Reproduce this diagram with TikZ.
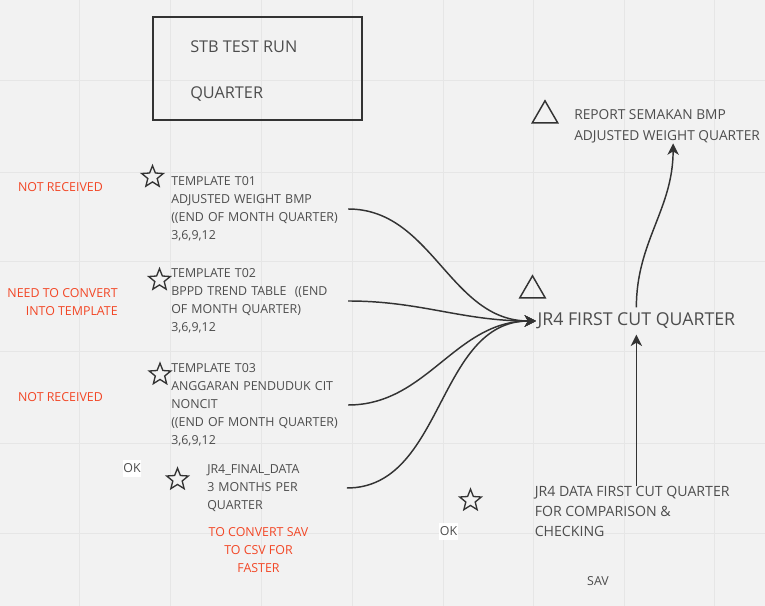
\documentclass[tikz,border=0pt]{standalone}
\usepackage{fontspec}
\setmainfont{Open Sans}
\usetikzlibrary{shapes.geometric,arrows.meta}
\definecolor{boardbg}{HTML}{F2F2F2}
\definecolor{gridln}{HTML}{E6E6E6}
\definecolor{inkgray}{HTML}{4D4D4D}
\definecolor{notered}{HTML}{F24726}
\definecolor{lineink}{HTML}{333333}

\begin{document}
\begin{tikzpicture}[x=0.75pt,y=-0.75pt]
			\tikzstyle{every node}+=[inner sep=0pt, text=inkgray]
			\tikzstyle{small}=[font=\fontsize{9.3}{13.5}\selectfont]
			\tikzstyle{txt}=[small, align=left, anchor=west]
			\tikzstyle{note}=[small, text=notered]
			\tikzstyle{okbox}=[small, fill=white, inner xsep=0.6pt, minimum height=12.6pt]
			\tikzstyle{starsym}=[star, star points=5, star point ratio=2.3, draw=lineink, line width=1pt, minimum size=17pt]
			\tikzstyle{trisym}=[regular polygon, regular polygon sides=3, draw=lineink, line width=1.1pt, minimum size=22pt]
			\tikzstyle{flow}=[draw=lineink, line width=1.1pt, -{Stealth[length=8.5pt, width=8.5pt, inset=2.5pt]}]
			\useasboundingbox (0,0) rectangle (765,606);
			\fill [boardbg] (0,0) rectangle (765,606);
			\foreach \gx in {79,170,261,352,443,533,624,714}
				\draw [gridln, line width=0.75pt] (\gx,0) -- (\gx,606);
			\foreach \gy in {81,173,262,352,443,533}
				\draw [gridln, line width=0.75pt] (0,\gy) -- (765,\gy);
			\draw [lineink, line width=1.1pt] (153,17) rectangle (362,120);
			\node [anchor=west, font=\fontsize{12.2}{14}\selectfont] (stb) at (190,47) {STB TEST RUN};
			\node [anchor=west, font=\fontsize{12.2}{14}\selectfont] (stbq) at (190,93.5) {QUARTER};
			\node [trisym] (tri1) at (545,115.5) {};
			\node [anchor=west, align=left, font=\fontsize{10.3}{15.6}\selectfont] (report) at (574,126.5) {REPORT SEMAKAN BMP\\ADJUSTED WEIGHT QUARTER};
			\node [trisym] (tri2) at (532.5,290.5) {};
			\node [anchor=west, inner xsep=1pt, inner ysep=4pt, font=\fontsize{13.3}{15}\selectfont] (jrcut) at (536,321) {JR4 FIRST CUT QUARTER};
			\node [note] (nr1) at (60.5,187) {NOT RECEIVED};
			\node [note, align=right, anchor=east] (ntc) at (118,302) {NEED TO CONVERT\\INTO TEMPLATE};
			\node [note] (nr3) at (60.5,397) {NOT RECEIVED};
			\node [starsym] (s1) at (152.5,177) {};
			\node [starsym] (s2) at (159.5,280) {};
			\node [starsym] (s3) at (160,374.5) {};
			\node [starsym] (s4) at (177.5,479.5) {};
			\node [starsym] (s5) at (470.5,500.5) {};
			\node [txt, text width=131pt] (t01) at (171,209) {TEMPLATE T01\\ADJUSTED WEIGHT BMP\\((END OF MONTH QUARTER)\\3,6,9,12};
			\node [txt, text width=131pt] (t02) at (171,301) {TEMPLATE T02\\BPPD TREND TABLE\ \ ((END\\OF MONTH QUARTER)\\3,6,9,12};
			\node [txt, text width=131pt] (t03) at (171,405) {TEMPLATE T03\\ANGGARAN PENDUDUK CIT\\NONCIT\\((END OF MONTH QUARTER)\\3,6,9,12};
			\node [txt, text width=103pt] (jrfinal) at (207,488) {JR4\_FINAL\_DATA\\3 MONTHS PER\\QUARTER};
			\node [note, align=center] (tocsv) at (258.5,550) {TO CONVERT SAV\\TO CSV FOR\\FASTER};
			\node [okbox] (ok1) at (132,468.5) {OK};
			\node [okbox] (ok2) at (448.5,531.5) {OK};
			\node [anchor=west, align=left, font=\fontsize{10.6}{15}\selectfont] (jrdata) at (534.5,511) {JR4 DATA FIRST CUT QUARTER\\FOR COMPARISON \&\\CHECKING};
			\node [small] (sav) at (598,581) {SAV};
			\draw [flow, shorten <=1.5pt] (t01.east) to [out=0, in=180] (jrcut.west);
			\draw [flow, shorten <=1.5pt] (t02.east) to [out=0, in=180] (jrcut.west);
			\draw [flow, shorten <=1.5pt] (t03.east) to [out=0, in=180] (jrcut.west);
			\draw [flow, shorten <=1.5pt] (jrfinal.east) to [out=0, in=180] (jrcut.west);
			\draw [flow] (jrcut.south |- jrdata.north) -- (jrcut.south);
			\draw [flow] (jrcut.north) to [out=90, in=-90] ([xshift=4.5pt]report.south);
\end{tikzpicture}
\end{document}
